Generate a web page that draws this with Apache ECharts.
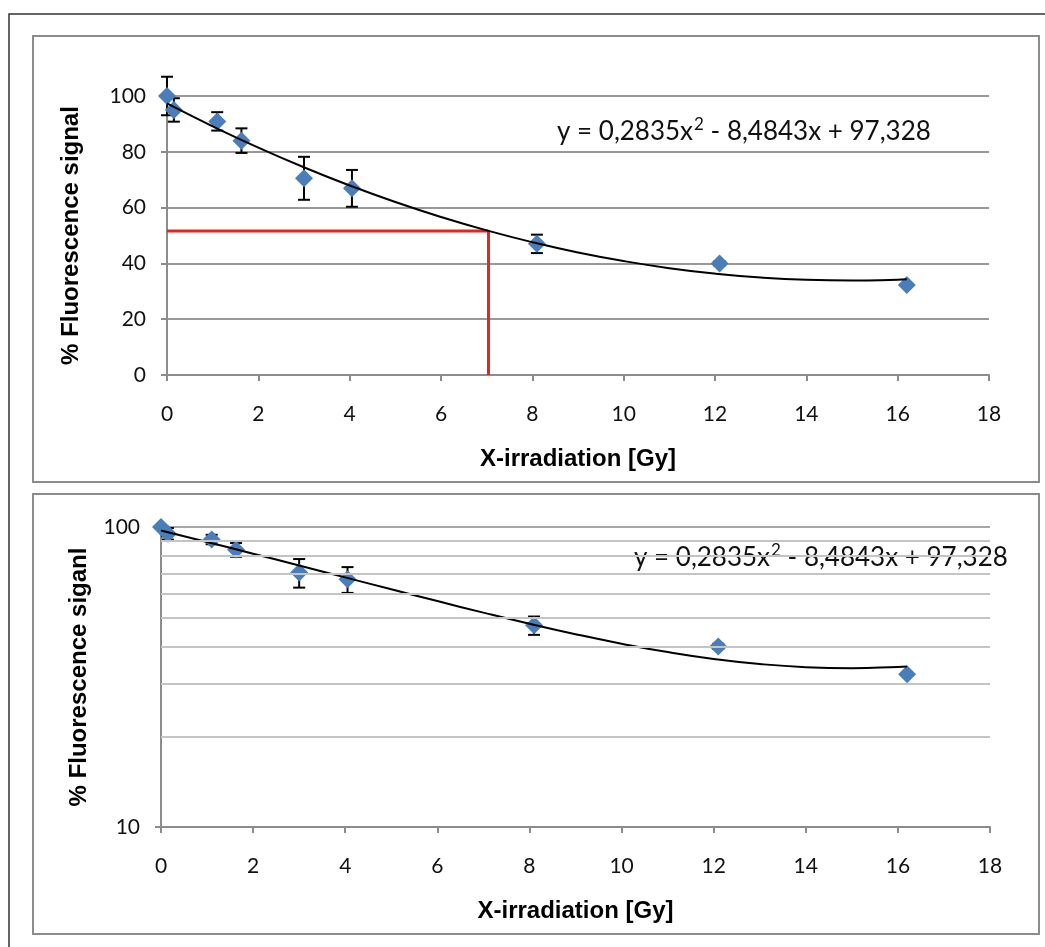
<!DOCTYPE html>
<html>
<head>
<meta charset="utf-8">
<script src="https://cdn.jsdelivr.net/npm/echarts@6/dist/echarts.min.js"></script>
<style>
html,body{margin:0;padding:0;background:#fff;}
#c{width:1045px;height:947px;}
</style>
</head>
<body>
<div id="c"></div>
<script>
// ---- data ----
const doseGy       = [0, 0.15, 1.1, 1.63, 3.0, 4.05, 8.1, 12.1, 16.2];
const fluorescence = [100, 95, 90.9, 84, 70.5, 66.9, 47, 40, 32.3];
const errorBar     = [6.9, 4.2, 3.3, 4.4, 7.7, 6.6, 3.3, 0.8, 0];
// fitted polynomial trend line, sampled along the drawn curve
const trendX = [0, 1, 2, 3, 4, 5, 6, 7, 8, 9, 10, 11, 12, 13, 14, 15, 16, 16.2];
const trendY = [97.33, 89.13, 81.49, 74.43, 67.93, 61.99, 56.63, 51.83, 47.60, 43.93, 40.84, 38.30, 36.34, 34.94, 34.11, 33.85, 34.16, 34.28];
// red guide (read-off at ~51.6 %)
const guideX = [0, 7.04, 7.04];
const guideY = [51.6, 51.6, 0];
// axis ranges
const xRange = [0, 18, 2];
const yLinRange = [0, 100, 20];
const yLogRange = [10, 100];
const logMinorGrid = [20, 30, 40, 50, 60, 70, 80, 90];
// equation label parts
const eqPart1 = 'y = 0,2835x';
const eqSup = '2';
const eqPart2 = ' - 8,4843x + 97,328';
const yTitleTop = '% Fluorescence signal';
const yTitleBottom = '% Fluorescence siganl';
const xTitle = 'X-irradiation [Gy]';

const pts = doseGy.map((x, i) => [x, fluorescence[i]]);
const errPts = doseGy.map((x, i) => [x, fluorescence[i], errorBar[i]]);
const trend = trendX.map((x, i) => [x, trendY[i]]);
const guide = guideX.map((x, i) => [x, guideY[i]]);

const tickFont = 'Lato, "Open Sans", sans-serif';
const titleFont = '"Liberation Sans", Arial, sans-serif';

function renderErr(params, api) {
  const x = api.value(0), y = api.value(1), e = api.value(2);
  if (!e) return null;
  const t = api.coord([x, y + e]);
  const b = api.coord([x, y - e]);
  const hw = 6;
  const st = { stroke: '#000', lineWidth: 2 };
  return {
    type: 'group',
    children: [
      { type: 'line', shape: { x1: t[0], y1: t[1], x2: b[0], y2: b[1] }, style: st },
      { type: 'line', shape: { x1: t[0] - hw, y1: t[1], x2: t[0] + hw, y2: t[1] }, style: st },
      { type: 'line', shape: { x1: b[0] - hw, y1: b[1], x2: b[0] + hw, y2: b[1] }, style: st }
    ]
  };
}

function xAxisDef(gridIndex) {
  return {
    type: 'value', gridIndex: gridIndex,
    min: xRange[0], max: xRange[1], interval: xRange[2],
    axisLine: { show: true, lineStyle: { color: '#8c8c8c', width: 2 } },
    axisTick: { show: true, length: 6, lineStyle: { color: '#8c8c8c', width: 2 } },
    splitLine: { show: false },
    axisLabel: { color: '#111', fontSize: 21, fontFamily: tickFont, margin: 29 },
    name: xTitle, nameLocation: 'middle', nameGap: 72,
    nameTextStyle: { color: '#000', fontSize: 24, fontWeight: 'bold', fontFamily: titleFont }
  };
}

function eqText(left, top) {
  return {
    type: 'text', left: left, top: top, silent: true,
    style: {
      text: '{a|' + eqPart1 + '}{s|' + eqSup + '}{a|' + eqPart2 + '}',
      rich: {
        a: { fontSize: 26, fontFamily: tickFont, fill: '#111', lineHeight: 31, verticalAlign: 'bottom' },
        s: { fontSize: 17, fontFamily: tickFont, fill: '#111', lineHeight: 31, verticalAlign: 'top', padding: [2, 0, 0, 1] }
      }
    }
  };
}

const option = {
  animation: false,
  backgroundColor: '#fff',
  graphic: [
    { type: 'polyline', shape: { points: [[9, 947], [9, 14], [1045, 14]] }, style: { stroke: '#333', lineWidth: 1.5, fill: null }, silent: true },
    { type: 'rect', shape: { x: 33, y: 36, width: 1006, height: 446 }, style: { stroke: '#8c8c8c', lineWidth: 2, fill: null }, silent: true },
    { type: 'rect', shape: { x: 33, y: 494, width: 1006, height: 440 }, style: { stroke: '#8c8c8c', lineWidth: 2, fill: null }, silent: true },
    eqText(557, 114),
    eqText(634, 540)
  ],
  grid: [
    { left: 167, right: 56, top: 96, bottom: 572 },
    { left: 161, right: 55, top: 527, bottom: 120 }
  ],
  xAxis: [xAxisDef(0), xAxisDef(1)],
  yAxis: [
    {
      type: 'value', gridIndex: 0,
      min: yLinRange[0], max: yLinRange[1], interval: yLinRange[2],
      axisLine: { show: true, lineStyle: { color: '#8c8c8c', width: 2 } },
      axisTick: { show: true, length: 6, lineStyle: { color: '#8c8c8c', width: 2 } },
      splitLine: { show: true, lineStyle: { color: '#999', width: 2 } },
      axisLabel: { color: '#111', fontSize: 21, fontFamily: tickFont, margin: 21 },
      name: yTitleTop, nameLocation: 'middle', nameGap: 84,
      nameTextStyle: { color: '#000', fontSize: 24, fontWeight: 'bold', fontFamily: titleFont }
    },
    {
      type: 'log', logBase: 10, gridIndex: 1,
      min: yLogRange[0], max: yLogRange[1],
      axisLine: { show: true, lineStyle: { color: '#8c8c8c', width: 2 } },
      axisTick: { show: true, length: 6, lineStyle: { color: '#8c8c8c', width: 2 } },
      splitLine: { show: true, lineStyle: { color: '#a6a6a6', width: 2 } },
      axisLabel: { color: '#111', fontSize: 21, fontFamily: tickFont, margin: 21 },
      name: yTitleBottom, nameLocation: 'middle', nameGap: 70,
      nameTextStyle: { color: '#000', fontSize: 24, fontWeight: 'bold', fontFamily: titleFont }
    }
  ],
  series: [
    // top chart
    { type: 'line', xAxisIndex: 0, yAxisIndex: 0, data: guide, symbol: 'none', lineStyle: { color: '#e3261f', width: 3 }, z: 1 },
    { type: 'custom', xAxisIndex: 0, yAxisIndex: 0, data: errPts, renderItem: renderErr, z: 2 },
    { type: 'scatter', xAxisIndex: 0, yAxisIndex: 0, data: pts, symbol: 'diamond', symbolSize: 18, itemStyle: { color: '#4a7ebb', opacity: 1 }, z: 3 },
    { type: 'line', xAxisIndex: 0, yAxisIndex: 0, data: trend, smooth: true, symbol: 'none', lineStyle: { color: '#000', width: 2 }, z: 4 },
    // bottom chart
    { type: 'scatter', xAxisIndex: 1, yAxisIndex: 1, data: [], z: 0,
      markLine: { silent: true, symbol: 'none', label: { show: false },
        lineStyle: { color: '#c4c4c4', width: 2, type: 'solid' },
        data: logMinorGrid.map(v => ({ yAxis: v })) } },
    { type: 'custom', xAxisIndex: 1, yAxisIndex: 1, data: errPts, renderItem: renderErr, clip: true, z: 2 },
    { type: 'scatter', xAxisIndex: 1, yAxisIndex: 1, data: pts, symbol: 'diamond', symbolSize: 18, itemStyle: { color: '#4a7ebb', opacity: 1 }, z: 3 },
    { type: 'line', xAxisIndex: 1, yAxisIndex: 1, data: trend, smooth: true, symbol: 'none', lineStyle: { color: '#000', width: 2 }, z: 4 }
  ]
};
echarts.init(document.getElementById('c'), null, { renderer: 'canvas' }).setOption(option);
</script>
</body>
</html>
